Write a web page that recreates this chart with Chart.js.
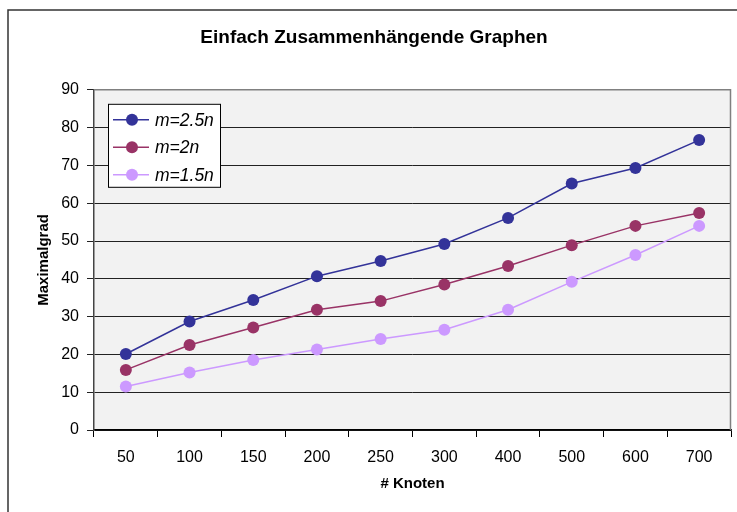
<!DOCTYPE html>
<html>
<head>
<meta charset="utf-8">
<script src="https://cdn.jsdelivr.net/npm/chart.js@4"></script>
<style>
  html, body { margin: 0; padding: 0; background: #fff; }
  #wrap { width: 737px; height: 512px; }
</style>
</head>
<body>
<div id="wrap"><canvas id="chart-area" width="737" height="512"></canvas></div>
<script>
var knoten = ["50", "100", "150", "200", "250", "300", "400", "500", "600", "700"];
var grad25 = [20.1, 28.7, 34.4, 40.7, 44.7, 49.2, 56.1, 65.2, 69.3, 76.7];
var grad20 = [15.9, 22.5, 27.1, 31.8, 34.1, 38.5, 43.4, 48.9, 54.0, 57.4];
var grad15 = [11.5, 15.2, 18.5, 21.3, 24.1, 26.5, 31.8, 39.2, 46.3, 54.0];
var seriesNames = ["m=2.5n", "m=2n", "m=1.5n"];
var seriesColors = ["#333399", "#993366", "#CC99FF"];

var fontFam = "'Liberation Sans', Arial, sans-serif";

function makeSet(i, values) {
    return {
        label: seriesNames[i],
        data: values,
        borderColor: seriesColors[i],
        backgroundColor: seriesColors[i],
        borderWidth: 1.5,
        pointRadius: 6,
        pointHoverRadius: 6,
        pointBorderWidth: 0,
        tension: 0
    };
}

// plot background, frame and the boxed legend like the excel original
var excelLook = {
    id: 'excelLook',
    beforeDraw: function(chart) {
        var c = chart.ctx, a = chart.chartArea;
        c.save();
        c.fillStyle = '#fff';
        c.fillRect(0, 0, chart.width, chart.height);
        c.strokeStyle = '#333';
        c.lineWidth = 1.5;
        c.strokeRect(8, 10, chart.width + 20, chart.height + 20);
        c.fillStyle = '#F2F2F2';
        c.fillRect(a.left, a.top, a.right - a.left, a.bottom - a.top);
        c.restore();
    },
    afterDatasetsDraw: function(chart) {
        var c = chart.ctx, a = chart.chartArea;
        c.save();
        c.strokeStyle = '#808080';
        c.lineWidth = 1.5;
        c.beginPath();
        c.moveTo(a.left, a.top);
        c.lineTo(a.right - 0.5, a.top);
        c.lineTo(a.right - 0.5, a.bottom);
        c.stroke();

        // legend
        var lx = a.left + 14, ly = a.top + 14, lw = 112, lh = 83;
        c.fillStyle = '#fff';
        c.fillRect(lx, ly, lw, lh);
        c.strokeStyle = '#000';
        c.lineWidth = 1;
        c.strokeRect(lx + 0.5, ly + 0.5, lw, lh);
        c.font = 'italic 17.5px ' + fontFam;
        c.textBaseline = 'middle';
        for (var i = 0; i < seriesNames.length; i++) {
            var yy = ly + 16 + i * 27.5;
            c.strokeStyle = seriesColors[i];
            c.lineWidth = 1.5;
            c.beginPath();
            c.moveTo(lx + 5, yy);
            c.lineTo(lx + 41, yy);
            c.stroke();
            c.fillStyle = seriesColors[i];
            c.beginPath();
            c.arc(lx + 24, yy, 6, 0, Math.PI * 2);
            c.fill();
            c.fillStyle = '#000';
            c.fillText(seriesNames[i], lx + 47, yy + 1);
        }
        c.restore();
    }
};

var config = {
    type: 'line',
    data: {
        labels: knoten,
        datasets: [makeSet(0, grad25), makeSet(1, grad20), makeSet(2, grad15)]
    },
    options: {
        responsive: false,
        animation: false,
        layout: { padding: { left: 12, right: 1, top: 0, bottom: 15 } },
        plugins: {
            legend: { display: false },
            tooltip: { enabled: false },
            title: {
                display: true,
                text: 'Einfach Zusammenhängende Graphen',
                color: '#000',
                font: { family: fontFam, size: 19, weight: 'bold' },
                padding: { top: 26, bottom: 41 }
            }
        },
        scales: {
            x: {
                offset: true,
                grid: { offset: true, drawOnChartArea: false, drawTicks: true, tickLength: 7, color: '#000' },
                border: { color: '#000', width: 1.5 },
                ticks: { color: '#000', font: { family: fontFam, size: 16 }, padding: 11, maxRotation: 0 },
                title: { display: true, text: '# Knoten', color: '#000', font: { family: fontFam, size: 15, weight: 'bold' }, padding: { top: 5 } },
                afterFit: function(s) { s.height = 67; }
            },
            y: {
                min: 0,
                max: 90,
                ticks: { stepSize: 10, color: '#000', font: { family: fontFam, size: 16 }, padding: 8 },
                grid: { color: '#222', lineWidth: 1, tickLength: 7, drawTicks: true },
                border: { color: '#444', width: 1.5 },
                title: { display: true, text: 'Maximalgrad', color: '#000', font: { family: fontFam, size: 15, weight: 'bold' }, padding: { top: 23, bottom: 0 } },
                afterFit: function(s) { s.width = 82; }
            }
        }
    },
    plugins: [excelLook]
};

var ctx = document.getElementById("chart-area").getContext("2d");
var myChart = new Chart(ctx, config);
</script>
</body>
</html>
